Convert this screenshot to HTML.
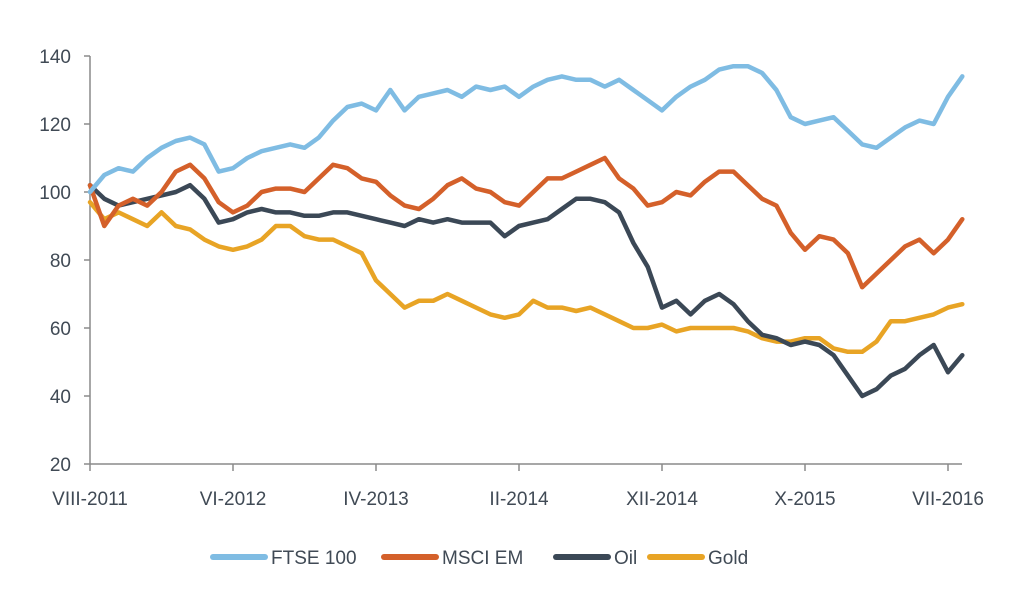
<!DOCTYPE html>
<html><head><meta charset="utf-8">
<style>
body{margin:0;background:#fff;width:1024px;height:585px;overflow:hidden;font-family:"Liberation Sans",sans-serif}
svg text{font-family:"Liberation Sans",sans-serif;fill:#404a55}
</style></head>
<body>
<svg id="chart" width="1024" height="585" xmlns="http://www.w3.org/2000/svg"></svg>
<script>
const months = Array.from({length:62},(_,i)=>i);
const xTickMonths = [0,10,20,30,40,50,60];
const xTickLabels = ["VIII-2011","VI-2012","IV-2013","II-2014","XII-2014","X-2015","VII-2016"];
const yTicks = [20,40,60,80,100,120,140];
const ftse = [100,105,107,106,110,113,115,116,114,106,107,110,112,113,114,113,116,121,125,126,124,130,124,128,129,130,128,131,130,131,128,131,133,134,133,133,131,133,130,127,124,128,131,133,136,137,137,135,130,122,120,121,122,118,114,113,116,119,121,120,128,134];
const msci = [102,90,96,98,96,100,106,108,104,97,94,96,100,101,101,100,104,108,107,104,103,99,96,95,98,102,104,101,100,97,96,100,104,104,106,108,110,104,101,96,97,100,99,103,106,106,102,98,96,88,83,87,86,82,72,76,80,84,86,82,86,92];
const oil = [102,98,96,97,98,99,100,102,98,91,92,94,95,94,94,93,93,94,94,93,92,91,90,92,91,92,91,91,91,87,90,91,92,95,98,98,97,94,85,78,66,68,64,68,70,67,62,58,57,55,56,55,52,46,40,42,46,48,52,55,47,52];
const gold = [97,92,94,92,90,94,90,89,86,84,83,84,86,90,90,87,86,86,84,82,74,70,66,68,68,70,68,66,64,63,64,68,66,66,65,66,64,62,60,60,61,59,60,60,60,60,59,57,56,56,57,57,54,53,53,56,62,62,63,64,66,67];
const seriesNames = ["FTSE 100","MSCI EM","Oil","Gold"];
const seriesData = [ftse,msci,oil,gold];
const seriesColors = ["#7fbce3","#d4602a","#3b4856","#e8a425"];

const NS="http://www.w3.org/2000/svg";
const svg=document.getElementById('chart');
const X0=90,X1=948,Y0=464,Y1=56;
const xs=m=>X0+(m/60)*(X1-X0);
const ys=v=>Y0-(v-20)/120*(Y0-Y1);
function mk(t,a){const e=document.createElementNS(NS,t);for(const k in a)e.setAttribute(k,a[k]);svg.appendChild(e);return e;}

let ax=mk('line',{x1:X0,y1:Y1,x2:X0,y2:Y0,stroke:'#8a8a8a','stroke-width':1.5});


let bx=mk('line',{x1:X0,y1:Y0,x2:962,y2:Y0,stroke:'#8a8a8a','stroke-width':1.5});


yTicks.forEach(v=>{
  const t=mk('line',{x1:X0-6,y1:ys(v),x2:X0,y2:ys(v),stroke:'#8a8a8a','stroke-width':1.5});
  
  
  const l=mk('text',{x:71,y:ys(v)+7,'text-anchor':'end','font-size':19});
  l.textContent=v;
  
  
});
xTickMonths.forEach((m,i)=>{
  const t=mk('line',{x1:xs(m),y1:Y0,x2:xs(m),y2:Y0+7,stroke:'#8a8a8a','stroke-width':1.5});
  
  
  const l=mk('text',{x:xs(m),y:505,'text-anchor':'middle','font-size':19});
  l.textContent=xTickLabels[i];
  
  
});
[3,2,1,0].forEach(si=>{
  const d=seriesData[si].map((v,i)=>(i?'L':'M')+xs(months[i]).toFixed(1)+','+ys(v).toFixed(1)).join(' ');
  const p=mk('path',{d:d,fill:'none',stroke:seriesColors[si],'stroke-width':4.5,'stroke-linejoin':'round','stroke-linecap':'round'});
  
  
});
const legX=[213,384,556,650];
seriesNames.forEach((n,i)=>{
  const s=mk('line',{x1:legX[i],y1:557,x2:legX[i]+52,y2:557,stroke:seriesColors[i],'stroke-width':6,'stroke-linecap':'round'});
  
  
  const t=mk('text',{x:legX[i]+58,y:564,'font-size':19});
  t.textContent=n;
  
  
});
</script>
</body></html>
